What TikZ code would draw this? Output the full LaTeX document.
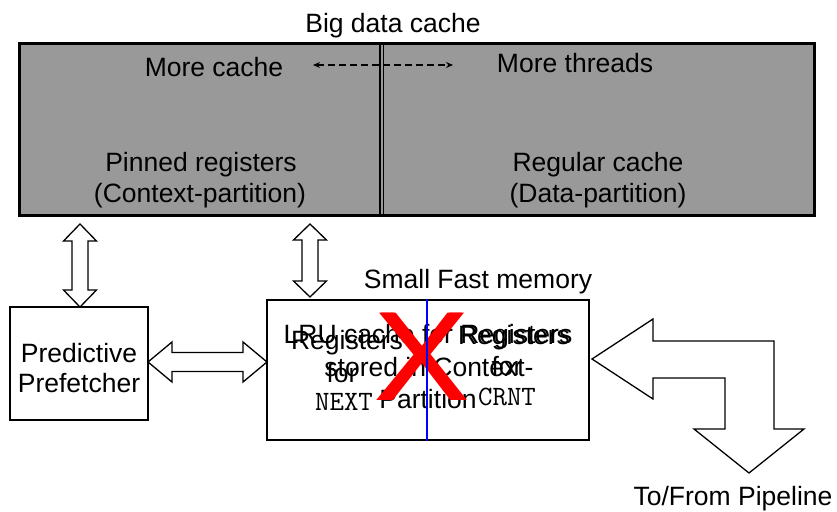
\documentclass[tikz,border=0pt]{standalone}
\usepackage{fontspec}
\setmainfont{Liberation Sans}
\usetikzlibrary{arrows.meta,calc}
\definecolor{cachegray}{RGB}{153,153,153}
\tikzset{
  lbl/.style={font=\fontsize{26.5}{31}\selectfont, inner sep=0pt, anchor=base},
  monolbl/.style={font=\fontsize{28}{31}\selectfont\ttfamily, inner sep=0pt, anchor=base},
  boxnode/.style={draw, line width=2pt, fill=white, inner sep=0pt},
  blockarr/.style={draw, fill=white, line width=1.3pt, line join=miter},
  crossmark/.style={text=red, font=\fontsize{127}{127}\selectfont, inner sep=0pt, xscale=1.12},
}
\begin{document}
\begin{tikzpicture}[x=1pt,y=-1pt]
\useasboundingbox (0,0) rectangle (837,511);

% big data cache
\node[draw, line width=3pt, fill=cachegray, inner sep=0pt,
      minimum width=795pt, minimum height=171.5pt] (big) at (416.5,129.25) {};
\draw[line width=1.2pt] (380,43.5) -- (380,215);
\draw[line width=1.2pt] (383.5,43.5) -- (383.5,215);

\node[lbl] (title) at (393,33) {Big data cache};
\node[lbl] (morecache) at (214,76) {More cache};
\node[lbl] (morethreads) at (575,73) {More threads};
\node[lbl] (pinned1) at (201,171) {Pinned registers};
\node[lbl] (pinned2) at (200,202) {(Context-partition)};
\node[lbl] (regular1) at (598,171) {Regular cache};
\node[lbl] (regular2) at (598,202) {(Data-partition)};

\coordinate (dl) at (313,65);
\coordinate (dr) at (453,65);
\draw[line width=1.3pt, dash pattern=on 7pt off 4pt,
      {Stealth[length=7pt,width=6pt]}-{Stealth[length=7pt,width=6pt]}] (dl) -- (dr);

% predictive prefetcher
\node[boxnode, minimum width=138pt, minimum height=113pt] (pref) at (79,363.5) {};
\node[lbl] (pref1) at (79,362) {Predictive};
\node[lbl] (pref2) at (79,392) {Prefetcher};

% small fast memory
\node[lbl] (sfm) at (478,288) {Small Fast memory};
\node[boxnode, minimum width=322pt, minimum height=140pt] (fast) at (428,370) {};

\node[lbl] (l1) at (347,349) {Registers};
\node[lbl] (l2) at (342,382) {for};
\node[monolbl] (l3) at (344,410) {NEXT};

\node[lbl] (r1) at (514,344) {Registers};
\node[lbl] (r2) at (507,375) {for};
\node[monolbl] (r3) at (507,405) {CRNT};

\node[lbl] (c1) at (428,343) {LRU cache for Registers};
\node[lbl] (c2) at (429,376) {stored in Context-};
\node[lbl] (c3) at (428,408) {Partition};

\node[crossmark] (cross) at (420.5,357) {X};
\node[crossmark] (cross2) at (422.5,357) {X};
\draw[blue, line width=2pt] ($(fast.north)+(-1,0)$) -- ($(fast.south)+(-1,0)$);

% double block arrows
\draw[blockarr] (80,224) -- (96.5,241) -- (88,241) -- (88,290) -- (96.5,290) -- (80,307)
  -- (63.5,290) -- (72,290) -- (72,241) -- (63.5,241) -- cycle;
\draw[blockarr] (310,224) -- (326.5,240) -- (318,240) -- (318,281) -- (326.5,281) -- (310,297)
  -- (293.5,281) -- (302,281) -- (302,240) -- (293.5,240) -- cycle;
\draw[blockarr] (148,362) -- (172,342) -- (172,352.5) -- (243,352.5) -- (243,342) -- (267,362)
  -- (243,382) -- (243,371.5) -- (172,371.5) -- (172,382) -- cycle;

% bent arrow to pipeline
\draw[blockarr] (592,359) -- (653,319) -- (653,341) -- (774,341) -- (774,429)
  -- (804,429) -- (749,473) -- (694,429) -- (725,429) -- (725,378)
  -- (653,378) -- (653,399) -- cycle;
\node[lbl] (pipe) at (733,505) {To/From Pipeline};
\end{tikzpicture}
\end{document}
